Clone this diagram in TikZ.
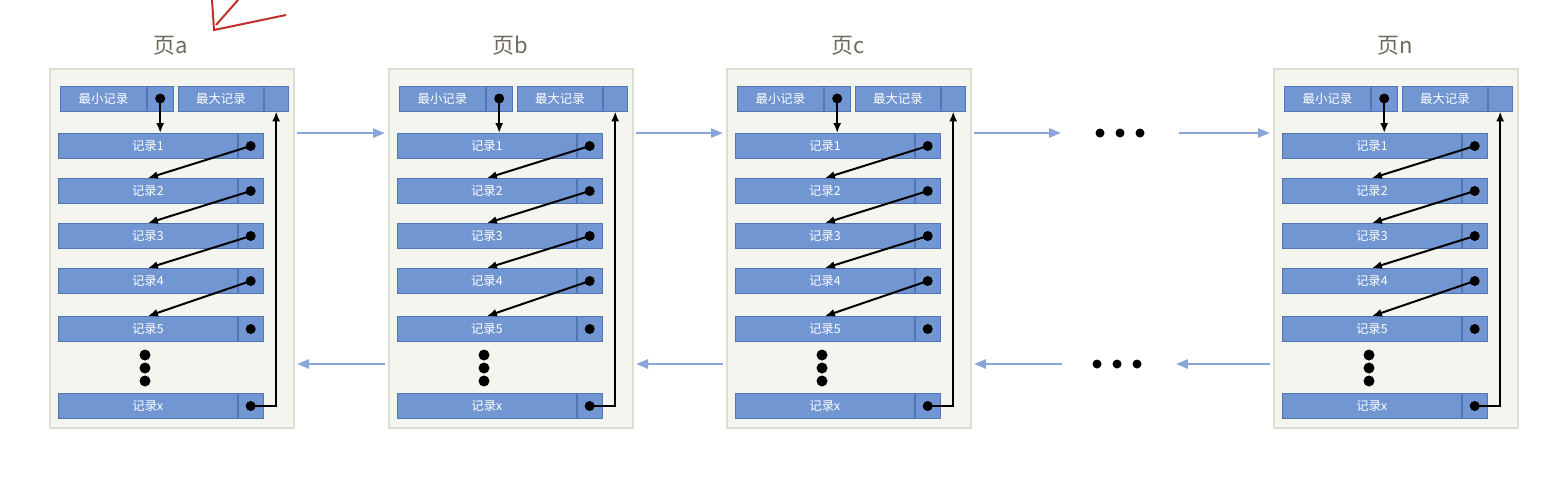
\documentclass[tikz,border=0pt]{standalone}
\usepackage{fontspec}
\newfontfamily\cjk{Noto Sans CJK SC}
\usetikzlibrary{positioning,arrows.meta}
\definecolor{recblue}{HTML}{7196D2}
\definecolor{recedge}{HTML}{5275B3}
\definecolor{linkblue}{HTML}{8AA6D8}
\definecolor{pagefill}{HTML}{F4F5EE}
\definecolor{pageedge}{HTML}{DDDED2}
\definecolor{titlegray}{HTML}{6E6A5C}
\definecolor{inkred}{HTML}{C0302A}

\tikzset{
  page/.style={draw=pageedge,fill=pagefill,line width=1pt,inner sep=0pt,anchor=north west},
  title/.style={text=titlegray,font=\cjk\fontsize{11}{11}\selectfont},
  rec/.style={draw=recedge,fill=recblue,text=white,font=\cjk\fontsize{6.2}{6.2}\selectfont,
    minimum height=12.5pt,inner sep=0pt,anchor=west},
  cell/.style={draw=recedge,fill=recblue,minimum height=12.5pt,inner sep=0pt},
  ptr/.style={circle,fill=black,inner sep=0pt,minimum size=5pt},
  link/.style={-{Latex[length=5pt,width=4pt]},black,line width=1pt},
  pagelink/.style={-{Triangle[length=6pt,width=4.5pt]},linkblue,line width=1.2pt}
}

\begin{document}
\begin{tikzpicture}[x=0.5pt,y=-0.5pt]
  \useasboundingbox (0,0) rectangle (1546,478);

  % hand-drawn mark
  \draw[inkred,line width=1pt] (212,0) -- (214,30) -- (286,15);
  \draw[inkred,line width=1pt] (216,25) -- (238,0);

  % pages
  \foreach \p/\x in {a/49,b/388,c/726,n/1273} {
    \begin{scope}[shift={(\x-49,0)}]
      \node[page,minimum width=122pt,minimum height=179.5pt] (\p-frame) at (49,68) {};
      \node[title] (\p-title) at (171,46) {页\p};

      \node[rec,minimum width=43pt] (\p-min) at (60,98.5) {最小记录};
      \node[cell,minimum width=13pt,right=0pt of \p-min] (\p-minp) {};
      \node[rec,minimum width=42.5pt] (\p-max) at (178,98.5) {最大记录};
      \node[cell,minimum width=12pt,right=0pt of \p-max] (\p-maxp) {};
      \node[ptr] (\p-dmin) at (\p-minp.center) {};

      \foreach \i/\y in {1/146,2/191,3/236,4/281,5/329,x/406} {
        \node[rec,minimum width=89.5pt] (\p-r\i) at (58,\y) {记录\i};
        \node[cell,minimum width=12.5pt,right=0pt of \p-r\i] (\p-p\i) {};
        \node[ptr] (\p-d\i) at (\p-p\i.center) {};
      }
      \foreach \k/\y in {1/355,2/368,3/381}
        \node[ptr,minimum size=5.5pt] (\p-v\k) at (145,\y) {};

      % pointers inside the page
      \draw[link] (\p-dmin.center) -- (\p-dmin.center |- \p-r1.north);
      \foreach \i/\j in {1/2,2/3,3/4,4/5}
        \draw[link] (\p-d\i.center) -- (\p-r\j.north);
      \draw[link] (\p-dx.center) -| (\p-maxp.south);
    \end{scope}
  }

  % gaps between page c and page n
  \foreach \k/\x in {1/1100,2/1120,3/1140}
    \node[ptr,minimum size=4.5pt] (gapt\k) at (\x,133) {};
  \foreach \k/\x in {1/1097,2/1117,3/1137}
    \node[ptr,minimum size=4.5pt] (gapb\k) at (\x,364) {};

  % links between pages
  \foreach \l/\r in {a/b,b/c} {
    \draw[pagelink] ([xshift=1pt]\l-frame.east |- \l-r1.north) -- ([xshift=-1.5pt]\r-frame.west |- \l-r1.north);
    \draw[pagelink] ([xshift=-1.5pt]\r-frame.west |- gapb1) -- ([xshift=1pt]\l-frame.east |- gapb1);
  }
  \draw[pagelink] ([xshift=1pt]c-frame.east |- gapt1) -- ([xshift=-17pt]gapt1.west);
  \draw[pagelink] ([xshift=17pt]gapt3.east) -- ([xshift=-1.5pt]n-frame.west |- gapt3);
  \draw[pagelink] ([xshift=-15pt]gapb1.west) -- ([xshift=1pt]c-frame.east |- gapb1);
  \draw[pagelink] ([xshift=-1.5pt]n-frame.west |- gapb3) -- ([xshift=17pt]gapb3.east);
\end{tikzpicture}
\end{document}
